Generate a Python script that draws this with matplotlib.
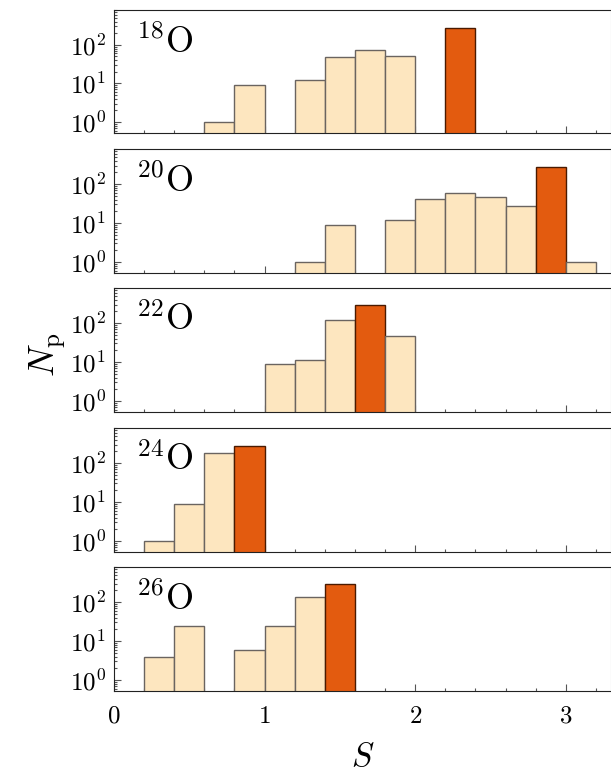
import numpy as np
import matplotlib
matplotlib.use("Agg")
import matplotlib.pyplot as plt
from matplotlib.ticker import LogLocator, MultipleLocator, NullFormatter

plt.rcParams['mathtext.fontset'] = 'cm'
plt.rcParams['font.family'] = 'serif'
plt.rcParams['font.serif'] = ['DejaVu Serif']

# Datos: inicio de cada bin (ancho 0.2), número de partículas y bin destacado
nucleos = ['18', '20', '22', '24', '26']
inicio_18 = [0.6, 0.8, 1.2, 1.4, 1.6, 1.8, 2.2]
conteo_18 = [1, 9, 12, 49, 75, 50, 277]
inicio_20 = [1.2, 1.4, 1.8, 2.0, 2.2, 2.4, 2.6, 2.8, 3.0]
conteo_20 = [1, 9, 12, 42, 60, 46, 27, 280, 1]
inicio_22 = [1.0, 1.2, 1.4, 1.6, 1.8]
conteo_22 = [9, 11, 123, 295, 46]
inicio_24 = [0.2, 0.4, 0.6, 0.8]
conteo_24 = [1, 9, 180, 280]
inicio_26 = [0.2, 0.4, 0.8, 1.0, 1.2, 1.4]
conteo_26 = [4, 24, 6, 24, 133, 290]
destacado = [2.2, 2.8, 1.6, 0.8, 1.4]

inicios = [inicio_18, inicio_20, inicio_22, inicio_24, inicio_26]
conteos = [conteo_18, conteo_20, conteo_22, conteo_24, conteo_26]

ancho = 0.2
claro = '#FDE6BF'
naranja = '#E35B0F'

W, H = 611, 776
fig = plt.figure(figsize=(W / 100, H / 100), dpi=100)

# posiciones de los paneles en píxeles (arriba, abajo)
paneles = [(10, 133), (149, 273), (288, 412), (428, 552), (567, 691)]
x0 = 114

for i, (top, bot) in enumerate(paneles):
    ax = fig.add_axes([x0 / W, 1 - bot / H, (W - x0) / W, (bot - top) / H])
    colores = [naranja if abs(s - destacado[i]) < 1e-6 else claro for s in inicios[i]]
    bordes = ['#4a1a00' if c == naranja else '#6a6460' for c in colores]
    ax.bar(inicios[i], conteos[i], width=ancho, align='edge', bottom=1e-3,
           color=colores, edgecolor=bordes, linewidth=1.0, zorder=2)
    ax.set_yscale('log')
    ax.set_ylim(0.52, 800)
    ax.set_xlim(0, 3.3)
    ax.yaxis.set_minor_locator(LogLocator(base=10, subs=np.arange(2, 10), numticks=20))
    ax.yaxis.set_minor_formatter(NullFormatter())
    ax.set_yticks([1, 10, 100])
    ax.set_yticklabels([r'$10^0$', r'$10^1$', r'$10^2$'], fontsize=18)
    ax.set_xticks([0, 1, 2, 3])
    ax.xaxis.set_minor_locator(MultipleLocator(0.2))
    ax.tick_params(which='both', direction='in', top=False, right=False,
                   color='#555555', width=0.8)
    ax.tick_params(which='major', length=5)
    ax.tick_params(which='minor', length=2.5)
    ax.tick_params(axis='y', pad=6)
    for lado in ['left', 'bottom', 'top']:
        ax.spines[lado].set_color('#222222')
    ax.spines['right'].set_color('#bbbbbb')
    if i < 4:
        ax.tick_params(axis='x', labelbottom=False)
    else:
        ax.set_xticklabels([r'$0$', r'$1$', r'$2$', r'$3$'], fontsize=18)
        ax.tick_params(axis='x', pad=10)
    ax.text(0.045, 0.88, r'$^{%s}\mathrm{O}$' % nucleos[i], transform=ax.transAxes,
            fontsize=26, va='top', ha='left')

fig.text(48 / W, 1 - 355 / H, r'$N_{\mathrm{p}}$', rotation=90, fontsize=26,
         ha='center', va='center')
fig.text(363 / W, 1 - 757 / H, r'$S$', fontsize=24, ha='center', va='center')

fig.savefig('out.png', dpi=100)
